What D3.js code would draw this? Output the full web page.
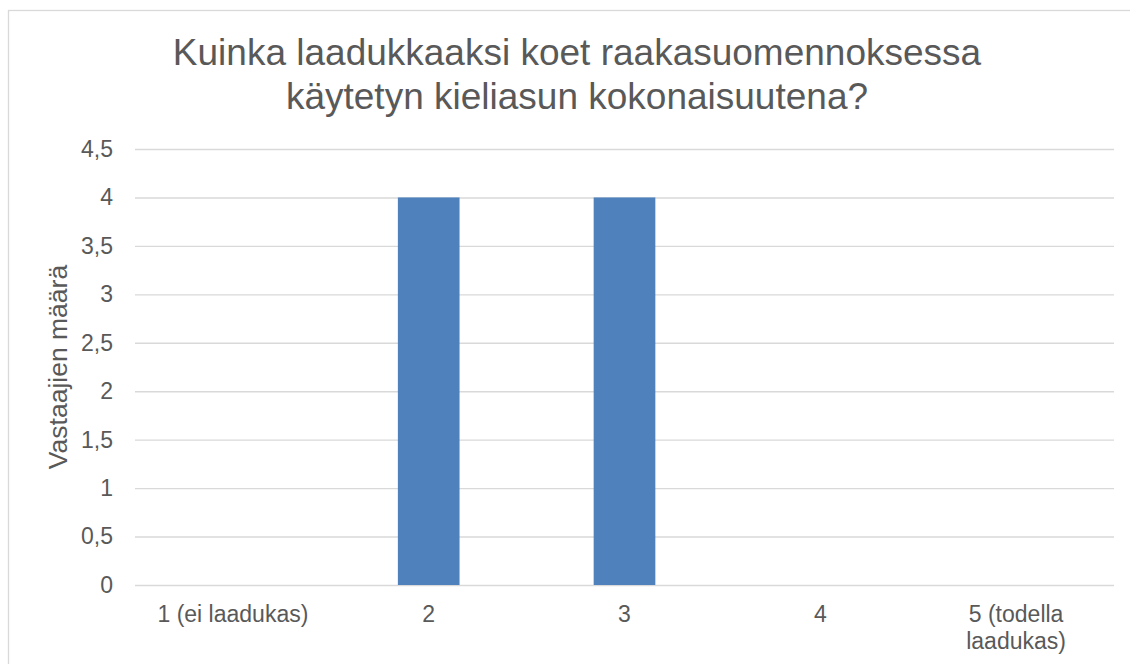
<!DOCTYPE html>
<html>
<head>
<meta charset="utf-8">
<script src="https://cdn.jsdelivr.net/npm/d3@7"></script>
<style>
  body { margin: 0; background: #fff; }
  svg { display: block; font-family: "Liberation Sans", Arial, sans-serif; }
</style>
</head>
<body>
<div id="chart"></div>
<script>
// data
const categories = ["1 (ei laadukas)", "2", "3", "4", "5 (todella laadukas)"];
const counts = [0, 4, 4, 0, 0];
const yTicks = [0, 0.5, 1, 1.5, 2, 2.5, 3, 3.5, 4, 4.5];
const titleLines = ["Kuinka laadukkaaksi koet raakasuomennoksessa", "käytetyn kieliasun kokonaisuutena?"];
const yTitle = "Vastaajien määrä";

const width = 1130, height = 664;
const plot = { left: 135, right: 1114, top: 149, bottom: 585 };
const textColor = "#595959";
const gridColor = "#d9d9d9";

const svg = d3.select("#chart").append("svg")
  .attr("width", width)
  .attr("height", height);

// chart border (runs off the right and bottom edge in the reference)
svg.append("rect")
  .attr("x", 8.5).attr("y", 10.5)
  .attr("width", 1200).attr("height", 700)
  .attr("fill", "none")
  .attr("stroke", gridColor)
  .attr("stroke-width", 1.3);

const x = d3.scaleBand()
  .domain(categories)
  .range([plot.left, plot.right])
  .paddingInner(0.685)
  .paddingOuter(0.685 / 2);

const y = d3.scaleLinear()
  .domain([0, 4.5])
  .range([plot.bottom, plot.top]);

// grid + y tick labels
const yAxis = svg.append("g")
  .attr("transform", `translate(${plot.left},0)`)
  .call(d3.axisLeft(y)
    .tickValues(yTicks)
    .tickSize(-(plot.right - plot.left))
    .tickPadding(22)
    .tickFormat(d => String(d).replace(".", ",")));
yAxis.select(".domain").remove();
yAxis.selectAll(".tick line")
  .attr("stroke", gridColor)
  .attr("stroke-width", 1.4);
yAxis.selectAll(".tick text")
  .attr("fill", textColor)
  .attr("font-size", 23)
  .attr("font-family", "Liberation Sans, Arial, sans-serif");

// bars
svg.append("g")
  .selectAll("rect")
  .data(categories.map((c, i) => ({ cat: c, value: counts[i] })))
  .join("rect")
  .attr("x", d => x(d.cat))
  .attr("y", d => y(d.value))
  .attr("width", x.bandwidth())
  .attr("height", d => y(0) - y(d.value))
  .attr("fill", "#4f81bd");

// x category labels, wrapped to the category width
const step = x.step();
const xLabels = svg.append("g")
  .selectAll("text")
  .data(categories)
  .join("text")
  .attr("x", d => x(d) + x.bandwidth() / 2)
  .attr("y", 622)
  .attr("text-anchor", "middle")
  .attr("fill", textColor)
  .attr("font-size", 23);

xLabels.each(function (d) {
  const t = d3.select(this);
  const words = d.split(" ");
  let line = [];
  let lineNo = 0;
  let tspan = t.append("tspan").attr("x", t.attr("x")).attr("dy", 0);
  words.forEach(w => {
    line.push(w);
    tspan.text(line.join(" "));
    if (tspan.node().getComputedTextLength() > step - 20 && line.length > 1) {
      line.pop();
      tspan.text(line.join(" "));
      line = [w];
      lineNo++;
      tspan = t.append("tspan").attr("x", t.attr("x")).attr("dy", 27).text(w);
    }
  });
});

// y axis title
svg.append("text")
  .attr("transform", `translate(66.5,${(plot.top + plot.bottom) / 2}) rotate(-90)`)
  .attr("text-anchor", "middle")
  .attr("fill", textColor)
  .attr("font-size", 26.5)
  .text(yTitle);

// chart title
svg.append("g")
  .selectAll("text")
  .data(titleLines)
  .join("text")
  .attr("x", 577)
  .attr("y", (d, i) => 65 + i * 43.5)
  .attr("text-anchor", "middle")
  .attr("fill", textColor)
  .attr("font-size", 37)
  .text(d => d);
</script>
</body>
</html>
